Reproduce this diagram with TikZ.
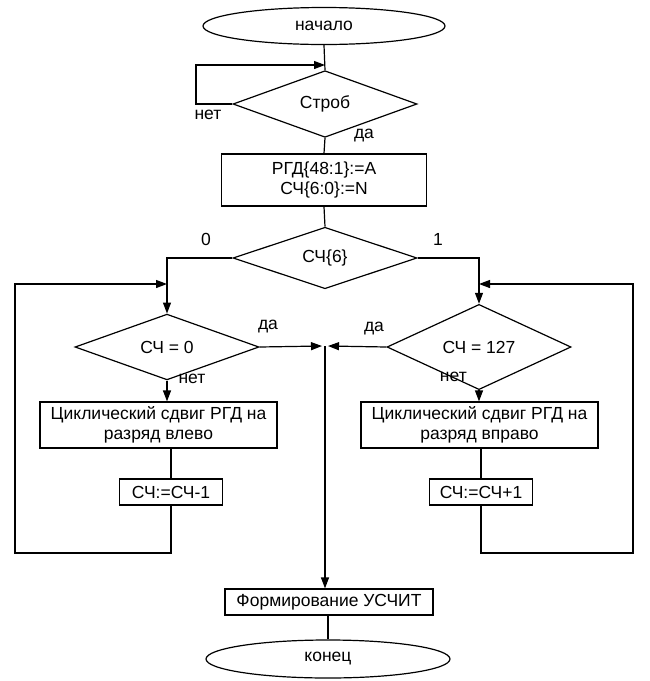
\documentclass[tikz,border=0pt]{standalone}
\usepackage{fontspec}
\setmainfont{Liberation Sans}
\usetikzlibrary{shapes.geometric,arrows.meta}
\begin{document}
\begin{tikzpicture}[x=1pt,y=-1pt,
  every node/.style={font=\fontsize{17.5}{20}\selectfont},
  ln/.style={line width=1.2pt},
  arr/.style={line width=1.2pt,-{Triangle[length=11pt,width=8pt]}},
  term/.style={draw,line width=1.2pt,ellipse,inner sep=0pt},
  dec/.style={draw,line width=1.2pt,diamond,inner sep=0pt,minimum width=184pt,minimum height=50pt},
  proc/.style={draw,line width=1.2pt,rectangle,inner sep=0pt,align=center},
  lbl/.style={inner sep=0pt}]
\useasboundingbox (0,0) rectangle (649,681);
\node[term,minimum width=242pt,minimum height=37pt] (start) at (324,26) {начало};
\node[dec] (strob) at (325,104) {Строб};
\node[proc,minimum width=205pt,minimum height=52pt] (init) at (324,180) {РГД\{48:1\}:=A\\СЧ\{6:0\}:=N};
\node[dec] (sc6) at (325,258) {СЧ\{6\}};
\node[dec] (z) at (167,347) {СЧ = 0};
\node[dec] (m) at (479,347) {СЧ = 127};
\node[proc,minimum width=237pt,minimum height=46pt] (lbox) at (158.5,425) {Циклический сдвиг РГД на\\разряд влево};
\node[proc,minimum width=103pt,minimum height=26pt] (lcnt) at (171,492) {СЧ:=СЧ-1};
\node[proc,minimum width=237pt,minimum height=46pt] (rbox) at (479.5,425) {Циклический сдвиг РГД на\\разряд вправо};
\node[proc,minimum width=103pt,minimum height=26pt] (rcnt) at (481,492) {СЧ:=СЧ+1};
\node[proc,minimum width=208pt,minimum height=26pt] (form) at (329,602) {Формирование УСЧИТ};
\node[term,minimum width=244pt,minimum height=38pt] (end) at (328,659) {конец};
\coordinate (L1) at (196,65);
\coordinate (L2) at (325,65);
\coordinate (J) at (325,346);
\coordinate (LL) at (15,553);
\coordinate (LLt) at (15,284);
\coordinate (LLe) at (167,284);
\coordinate (RL) at (633,553);
\coordinate (RLt) at (633,284);
\coordinate (RLe) at (479,284);
% connectors
\draw[ln] (start.south) -- (strob.north);
\draw[arr] (strob.west) -- (strob.west -| L1) -- (L1) -- (L2);
\draw[ln] (strob.south) -- (init.north);
\draw[ln] (init.south) -- (sc6.north);
\draw[arr] (sc6.west) -| (z.north);
\draw[arr] (sc6.east) -| (m.north);
\draw[arr] (z.south) -- (z.south |- lbox.north);
\draw[arr] (m.south) -- (m.south |- rbox.north);
\draw[ln] (lcnt.north |- lbox.south) -- (lcnt.north);
\draw[ln] (rcnt.north |- rbox.south) -- (rcnt.north);
\draw[arr] (lcnt.south) -- (lcnt.south |- LL) -- (LL) -- (LLt) -- (LLe);
\draw[arr] (rcnt.south) -- (rcnt.south |- RL) -- (RL) -- (RLt) -- (RLe);
\draw[arr] (z.east) -- ([xshift=-3pt]J);
\draw[arr] (m.west) -- ([xshift=3pt]J);
\draw[arr] (J) -- (J |- form.north);
\draw[ln] (form.south -| end.north) -- (end.north);
% labels
\node[lbl] (t1) at (208,115) {нет};
\node[lbl] (t2) at (364,136) {да};
\node[lbl] (t3) at (206,239) {0};
\node[lbl] (t4) at (438,239) {1};
\node[lbl] (t5) at (268,327) {да};
\node[lbl] (t6) at (192,379) {нет};
\node[lbl,anchor=east] (t8) at (467,377) {нет};
\node[lbl] (t7) at (374,329) {да};
\end{tikzpicture}
\end{document}
